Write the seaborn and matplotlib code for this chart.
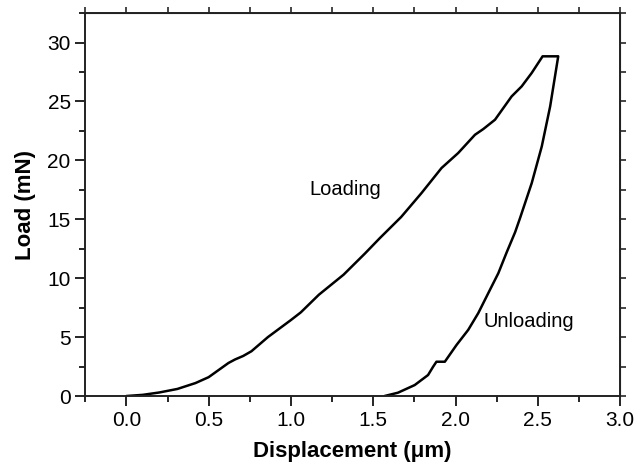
import matplotlib
matplotlib.use('Agg')
from matplotlib import pyplot as plt
from matplotlib.ticker import MultipleLocator
import pandas as pd
import seaborn as sns

# Loading branch (displacement in um, load in mN)
load_disp = [0.0, 0.1, 0.2, 0.31, 0.42, 0.5, 0.57, 0.62, 0.66, 0.71, 0.76, 0.86, 1.0,
             1.06, 1.17, 1.32, 1.45, 1.54, 1.67, 1.793, 1.915, 2.016, 2.118, 2.169,
             2.24, 2.341, 2.402, 2.463, 2.529, 2.62]
load_force = [0.0, 0.1, 0.3, 0.6, 1.1, 1.6, 2.3, 2.8, 3.1, 3.4, 3.8, 5.0, 6.45,
              7.1, 8.6, 10.3, 12.1, 13.4, 15.2, 17.22, 19.35, 20.62, 22.17, 22.66,
              23.45, 25.43, 26.28, 27.42, 28.83, 28.83]

# Unloading branch
unload_disp = [2.624, 2.575, 2.524, 2.463, 2.392, 2.362, 2.311, 2.26, 2.199, 2.138,
               2.077, 2.006, 1.935, 1.884, 1.864, 1.833, 1.752, 1.65, 1.569]
unload_force = [28.83, 24.58, 21.18, 18.07, 15.1, 13.9, 12.2, 10.42, 8.73, 7.03,
                5.61, 4.33, 2.91, 2.91, 2.49, 1.78, 0.93, 0.28, 0.0]

df_load = pd.DataFrame({'disp': load_disp, 'load': load_force})
df_unload = pd.DataFrame({'disp': unload_disp, 'load': unload_force})

sns.set_style('ticks')
plt.rcParams['font.family'] = ['Liberation Sans', 'DejaVu Sans']
plt.rcParams['text.color'] = 'black'
plt.rcParams['axes.labelcolor'] = 'black'

fig = plt.figure(figsize=(6.36, 4.67), dpi=100)
ax = fig.add_axes([0.134, 0.152, 0.841, 0.82])

sns.lineplot(data=df_load, x='disp', y='load', sort=False, estimator=None,
             color='black', linewidth=1.8, ax=ax)
sns.lineplot(data=df_unload, x='disp', y='load', sort=False, estimator=None,
             color='black', linewidth=1.8, ax=ax)

ax.set_xlim(-0.25, 3.0)
ax.set_ylim(0, 32.5)
ax.xaxis.set_major_locator(MultipleLocator(0.5))
ax.xaxis.set_minor_locator(MultipleLocator(0.25))
ax.yaxis.set_major_locator(MultipleLocator(5))
ax.yaxis.set_minor_locator(MultipleLocator(2.5))
ax.set_xticks([0.0, 0.5, 1.0, 1.5, 2.0, 2.5, 3.0])
ax.set_xticklabels(['0.0', '0.5', '1.0', '1.5', '2.0', '2.5', '3.0'])

ax.tick_params(which='major', direction='out', length=7, width=1.2, labelsize=15, colors='black')
ax.tick_params(which='minor', direction='out', length=4, width=1.2, colors='black')

for side in ['top', 'right', 'bottom', 'left']:
    ax.spines[side].set_visible(True)
    ax.spines[side].set_linewidth(1.4)
    ax.spines[side].set_color('#222222')

# ticks on top/right without labels
top = ax.secondary_xaxis('top')
top.xaxis.set_major_locator(MultipleLocator(0.25))
top.tick_params(direction='out', length=4, width=1.2, labeltop=False)
right = ax.secondary_yaxis('right')
right.yaxis.set_major_locator(MultipleLocator(2.5))
right.tick_params(direction='out', length=4, width=1.2, labelright=False)

ax.set_xlabel('Displacement (\u03bcm)', fontsize=16, fontweight='bold', labelpad=8)
ax.set_ylabel('Load (mN)', fontsize=16, fontweight='bold', labelpad=8)

ax.text(1.33, 17.5, 'Loading', fontsize=14.5, ha='center', va='center')
ax.text(2.17, 6.3, 'Unloading', fontsize=14.5, ha='left', va='center')

plt.savefig('out.png', dpi=100)
